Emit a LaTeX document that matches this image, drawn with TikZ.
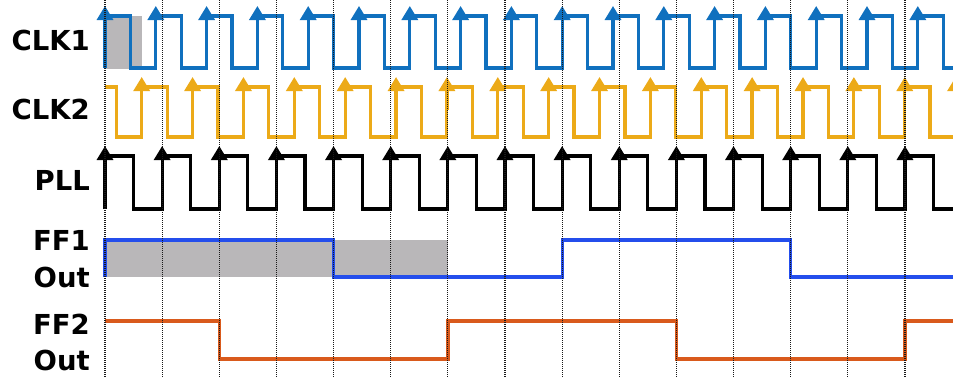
\documentclass[tikz,border=0pt]{standalone}
\usepackage{fontspec}
\setsansfont{DejaVu Sans}
\usetikzlibrary{arrows.meta}

\definecolor{clkblue}{RGB}{16,112,190}
\definecolor{clkyellow}{RGB}{236,170,24}
\definecolor{ffblue}{RGB}{36,78,236}
\definecolor{fforange}{RGB}{217,90,28}
\definecolor{shadegray}{RGB}{185,183,185}

\tikzset{
	siglabel/.style={anchor=base east, font=\sffamily\bfseries\fontsize{27.5}{32}\selectfont, inner sep=0pt},
	wave/.style={line width=3.2pt, line join=miter},
	risetip/.style={line width=3.2pt, -{Triangle[width=16pt,length=14pt]}},
	gridline/.style={line width=1.1pt, black!90, dash pattern=on 1pt off 1pt}
}

\begin{document}
\begin{tikzpicture}[x=1pt,y=-1pt]
				\useasboundingbox (0,0) rectangle (953,378);
				\clip (0,0) rectangle (953,378);
				
				% Labels
				\node[siglabel] (clkone) at (90,50) {CLK1};
				\node[siglabel] (clktwo) at (90,119) {CLK2};
				\node[siglabel] (pll) at (90,190) {PLL};
				\node[siglabel] (ffone) at (90,250) {FF1};
				\node[siglabel] (ffoneout) at (90,287) {Out};
				\node[siglabel] (fftwo) at (90,334) {FF2};
				\node[siglabel] (fftwoout) at (90,370) {Out};
				
				% Shaded windows
				\fill[shadegray] (105,16) rectangle (141.7,69);
				\fill[shadegray] (105,240) rectangle (447.9,277);
				
				% CLK1
				\draw[wave, clkblue] (105,68) \foreach \k in {0,...,16} { -- ++(0,-52) -- ++(25.4,0) -- ++(0,52) -- ++(25.4,0) };
				\foreach \k in {0,...,16}
					\draw[risetip, clkblue] ({105+\k*50.8},40) -- ({105+\k*50.8},6);
				
				% CLK2
				\draw[wave, clkyellow] (105,87) -- (116.3,87) \foreach \k in {0,...,16} { -- ++(0,50) -- ++(25.43,0) -- ++(0,-50) -- ++(25.43,0) };
				\foreach \k in {0,...,16}
					\draw[risetip, clkyellow] ({141.7+\k*50.87},110) -- ({141.7+\k*50.87},77);
				
				% PLL
				\draw[wave, black] (105,209) \foreach \k in {0,...,15} { -- ++(0,-53) -- ++(28.57,0) -- ++(0,53) -- ++(28.57,0) };
				\foreach \k in {0,...,14}
					\draw[risetip, black] ({105+\k*57.14},200) -- ({105+\k*57.14},146);
				
				% FF1 Out
				\draw[wave, ffblue] (105,277) -- (105,240) -- (333.6,240) -- (333.6,277) -- (562.1,277) -- (562.1,240) -- (790.7,240) -- (790.7,277) -- (953,277);
				
				% FF2 Out
				\draw[wave, fforange] (105,321) -- (219.3,321) -- (219.3,359) -- (447.9,359) -- (447.9,321) -- (676.4,321) -- (676.4,359) -- (905,359) -- (905,321) -- (953,321);
				
				% PLL edge markers
				\foreach \k in {0,...,14}
					\draw[gridline] ({105+\k*57.14},0) -- ({105+\k*57.14},378);
\end{tikzpicture}
\end{document}
